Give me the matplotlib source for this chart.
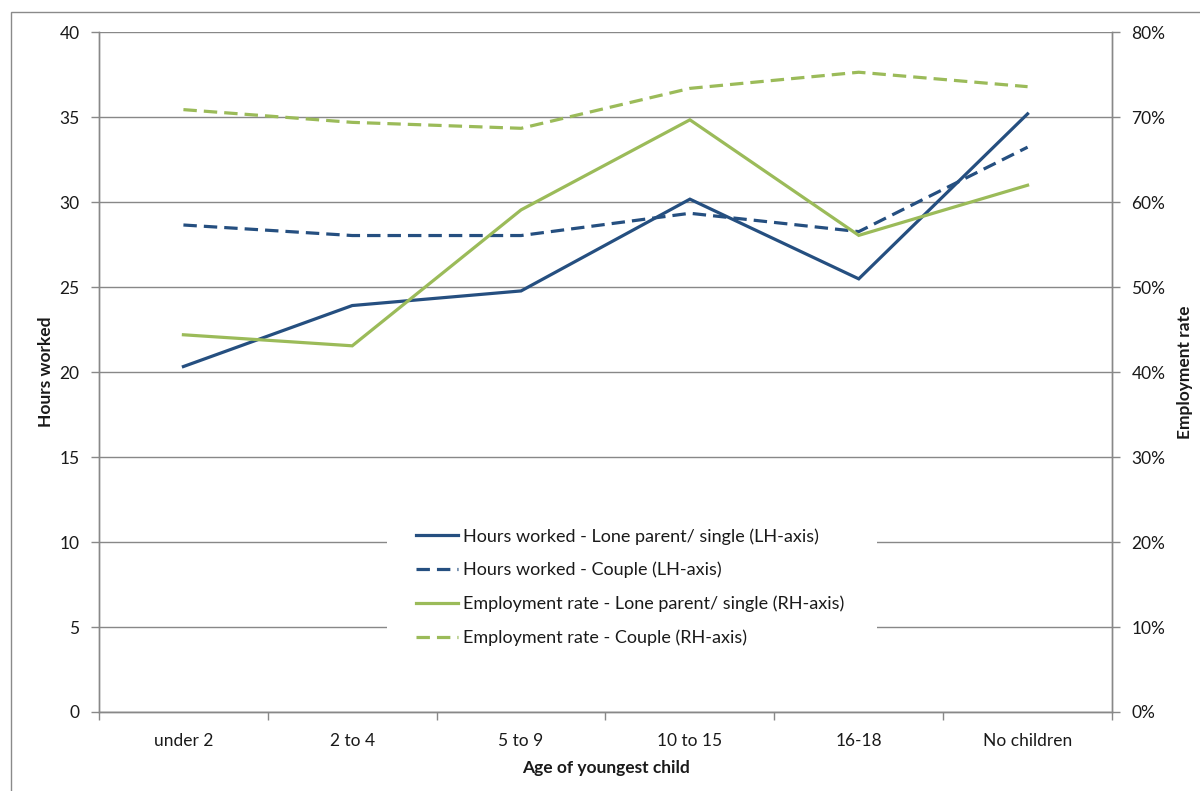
import matplotlib
matplotlib.use("Agg")
import matplotlib.pyplot as plt
from matplotlib.lines import Line2D
from matplotlib.patches import Rectangle
from matplotlib.ticker import MultipleLocator, FuncFormatter, FixedLocator

plt.rcParams['font.family'] = ['Lato', 'DejaVu Sans']

categories = ["under 2", "2 to 4", "5 to 9", "10 to 15", "16-18", "No children"]
hours_lone = [20.33, 23.92, 24.78, 30.18, 25.49, 35.2]
hours_couple = [28.66, 28.04, 28.04, 29.35, 28.27, 33.24]
emp_lone = [44.4, 43.1, 59.1, 69.7, 56.1, 62.0]
emp_couple = [70.9, 69.4, 68.7, 73.4, 75.3, 73.6]

labels = [
    "Hours worked - Lone parent/ single (LH-axis)",
    "Hours worked - Couple (LH-axis)",
    "Employment rate - Lone parent/ single (RH-axis)",
    "Employment rate - Couple (RH-axis)",
]

BLUE = "#254F80"
GREEN = "#9BBB59"
GRID = "#888888"
TEXT = "#1a1a1a"
LW = 2.3
DASH = (4.2, 2.2)

fig = plt.figure(figsize=(12, 7.91), dpi=100)
fig.patch.set_facecolor("white")

# chart-area border
fig.patches.append(Rectangle((11 / 1200, -0.05), 1.2, 1 - 12 / 791 + 0.05,
                             transform=fig.transFigure, fill=False,
                             edgecolor="#8a8a8a", linewidth=1.0))

ax = fig.add_axes([99 / 1200, 1 - 712 / 791, (1112 - 99) / 1200, (712 - 32.3) / 791])
ax2 = ax.twinx()

x = list(range(len(categories)))

ax.plot(x, hours_lone, color=BLUE, lw=LW, solid_joinstyle="miter", zorder=3)
ax.plot(x, hours_couple, color=BLUE, lw=LW, dashes=DASH, zorder=3)
ax2.plot(x, emp_lone, color=GREEN, lw=LW, solid_joinstyle="miter", zorder=3)
ax2.plot(x, emp_couple, color=GREEN, lw=LW, dashes=DASH, zorder=3)

ax.set_xlim(-0.5, len(categories) - 0.5)
ax.set_ylim(0, 40)
ax2.set_ylim(0, 80)

ax.yaxis.set_major_locator(MultipleLocator(5))
ax2.yaxis.set_major_locator(MultipleLocator(10))
ax2.yaxis.set_major_formatter(FuncFormatter(lambda v, p: f"{v:.0f}%"))

ax.set_xticks(x)
ax.set_xticklabels(categories)
ax.xaxis.set_minor_locator(FixedLocator([i - 0.5 for i in range(len(categories) + 1)]))

ax.grid(axis="y", color=GRID, lw=1.0, zorder=0)
ax.set_axisbelow(True)

for a in (ax, ax2):
    for s in a.spines.values():
        s.set_color(GRID)
        s.set_linewidth(1.0)
    a.spines["top"].set_visible(False)

ax.tick_params(axis="x", which="major", length=0, pad=15, labelsize=12.5, labelcolor=TEXT)
ax.tick_params(axis="x", which="minor", length=6, color=GRID, width=1.0)
ax.tick_params(axis="y", length=6, color=GRID, width=1.0, pad=8, labelsize=12.5, labelcolor=TEXT)
ax2.tick_params(axis="y", length=6, color=GRID, width=1.0, pad=8, labelsize=12.5, labelcolor=TEXT)

ax.set_ylabel("Hours worked", fontsize=12.5, fontweight="bold", color=TEXT, labelpad=4)
ax2.set_ylabel("Employment rate", fontsize=12.5, fontweight="bold", color=TEXT, labelpad=8)
ax.set_xlabel("Age of youngest child", fontsize=12.5, fontweight="bold", color=TEXT, labelpad=8)

# white panel behind the legend, interrupting the gridlines
ax2.add_patch(Rectangle((387 / 1200, 1 - 660 / 791), (877 - 387) / 1200, (660 - 515) / 791,
                        transform=fig.transFigure, facecolor="white", edgecolor="none",
                        zorder=1, clip_on=False))

handles = [
    Line2D([], [], color=BLUE, lw=LW),
    Line2D([], [], color=BLUE, lw=LW, dashes=DASH),
    Line2D([], [], color=GREEN, lw=LW),
    Line2D([], [], color=GREEN, lw=LW, dashes=DASH),
]
leg = ax2.legend(handles, labels, loc="center left", bbox_to_anchor=(416 / 1200, 1 - 587 / 791),
                 bbox_transform=fig.transFigure, frameon=False, fontsize=13,
                 handlelength=2.35, handletextpad=0.28, labelspacing=0.95,
                 borderpad=0, borderaxespad=0)
leg.set_zorder(5)
for t in leg.get_texts():
    t.set_color(TEXT)

fig.savefig("out.png", dpi=100, facecolor="white")
